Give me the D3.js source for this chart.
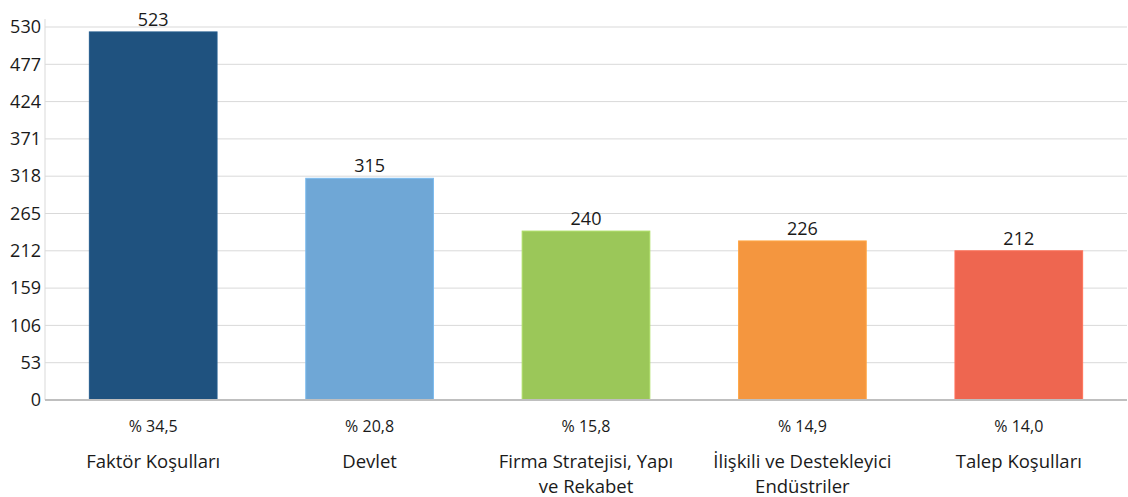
<!DOCTYPE html>
<html><head><meta charset="utf-8">
<script src="https://cdn.jsdelivr.net/npm/d3@7"></script>
<style>
body{margin:0;background:#fff;}
text{font-family:"Open Sans","Noto Sans",sans-serif;fill:#1a1a1a;}
</style></head>
<body>
<svg id="chart" width="1128" height="497"></svg>
<script>
const categories = [["Faktör Koşulları"],["Devlet"],["Firma Stratejisi, Yapı","ve Rekabet"],["İlişkili ve Destekleyici","Endüstriler"],["Talep Koşulları"]];
const values = [523, 315, 240, 226, 212];
const percents = ["% 34,5","% 20,8","% 15,8","% 14,9","% 14,0"];
const colors = ["#1F527F","#6FA7D6","#9BC759","#F4963F","#EE6650"];
const yTicks = [0,53,106,159,212,265,318,371,424,477,530];

(function(){
const svg = d3.select("#chart");
const mLeft = 45, mRight = 1127, mTop = 27, mBottom = 400;
const x = d3.scaleBand().domain(d3.range(values.length)).range([mLeft, mRight]).paddingInner(0.41).paddingOuter(0.205);
const y = d3.scaleLinear().domain([0,530]).range([mBottom, mTop]);

svg.append("g").selectAll("line").data(yTicks.filter(d=>d>0)).join("line")
  .attr("x1", mLeft).attr("x2", mRight).attr("y1", d=>y(d)).attr("y2", d=>y(d))
  .attr("stroke", "#d9d9d9").attr("stroke-width", 1);

const yAxis = svg.append("g").attr("transform", `translate(${mLeft},0)`)
  .call(d3.axisLeft(y).tickValues(yTicks).tickSize(0).tickPadding(4));
yAxis.select(".domain").attr("stroke", "#d9d9d9").attr("d", `M0,${mTop-8}V${mBottom}`);
yAxis.selectAll("text").style("font-size","18px").attr("fill","#1a1a1a")
  .style("font-family","'Open Sans','Noto Sans',sans-serif");

svg.append("g").selectAll("rect").data(values).join("rect")
  .attr("x", (d,i)=>x(i)).attr("width", x.bandwidth())
  .attr("y", d=>y(d)).attr("height", d=>mBottom - y(d))
  .attr("fill", (d,i)=>colors[i])
  .attr("stroke", (d,i)=>d3.color(colors[i]).brighter(0.3)).attr("stroke-width", 1);

svg.append("line").attr("x1", mLeft).attr("x2", mRight).attr("y1", mBottom).attr("y2", mBottom)
  .attr("stroke", "#bfbfbf").attr("stroke-width", 2);

svg.append("g").selectAll("text").data(values).join("text")
  .attr("x", (d,i)=>x(i)+x.bandwidth()/2).attr("y", d=>y(d)-6)
  .attr("text-anchor","middle").style("font-size","18px").text(d=>d);

svg.append("g").selectAll("text").data(percents).join("text")
  .attr("x", (d,i)=>x(i)+x.bandwidth()/2).attr("y", 432)
  .attr("text-anchor","middle").style("font-size","16px").text(d=>d);

const cat = svg.append("g").selectAll("text").data(categories).join("text")
  .attr("x", (d,i)=>x(i)+x.bandwidth()/2).attr("y", 468)
  .attr("text-anchor","middle").style("font-size","18.5px");
cat.selectAll("tspan").data(d=>d).join("tspan")
  .attr("x", function(){return this.parentNode.getAttribute("x");})
  .attr("dy", (d,i)=>i===0?0:25).text(d=>d);
})();
</script>
</body></html>
